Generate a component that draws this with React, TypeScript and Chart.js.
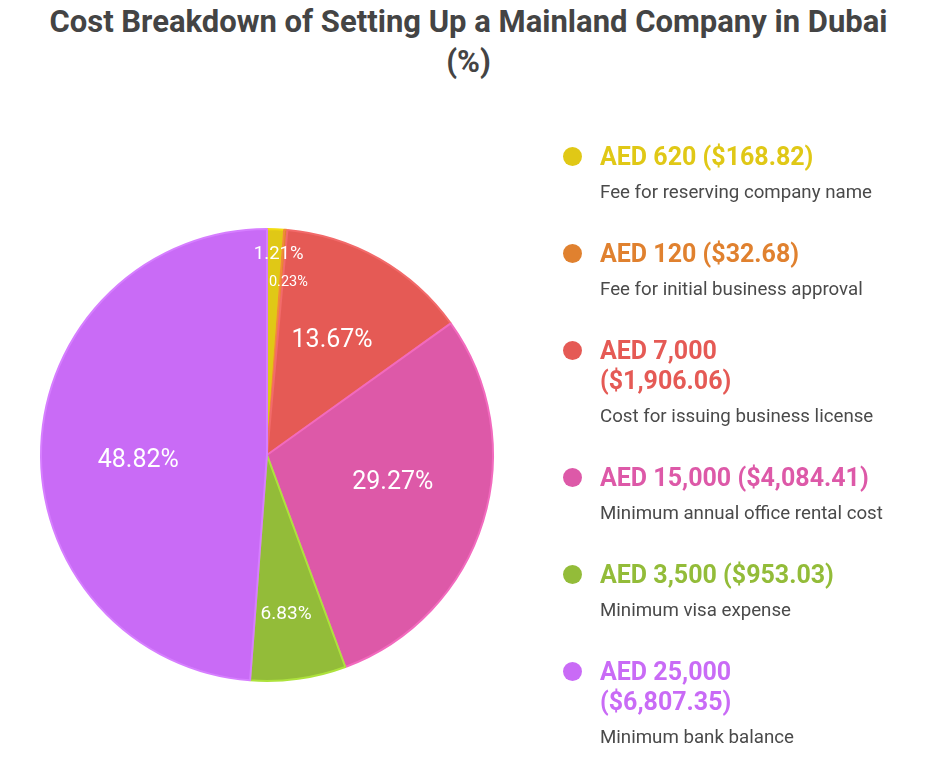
import React, { useEffect, useRef } from "react";
import { Chart, registerables } from "chart.js";

Chart.register(...registerables);

const TITLE_LINE1 = "Cost Breakdown of Setting Up a Mainland Company in Dubai";
const TITLE_LINE2 = "(%)";
const amounts = ["AED 620 ($168.82)", "AED 120 ($32.68)", "AED 7,000\n($1,906.06)", "AED 15,000 ($4,084.41)", "AED 3,500 ($953.03)", "AED 25,000\n($6,807.35)"];
const descriptions = [
  "Fee for reserving company name",
  "Fee for initial business approval",
  "Cost for issuing business license",
  "Minimum annual office rental cost",
  "Minimum visa expense",
  "Minimum bank balance",
];
const percentages = [1.21, 0.23, 13.67, 29.27, 6.83, 48.82];
const colors = ["#E0C816", "#E0812F", "#E55A55", "#DD59A8", "#93BC39", "#C96BF6"];
const borderColors = ["#F2DC10", "#F08A3A", "#F26A6A", "#F26ABE", "#ADE23C", "#D67EFF"];

const labelPlugin = {
  id: "sliceLabels",
  afterDatasetsDraw(chart: any) {
    const ctx = chart.ctx;
    const meta = chart.getDatasetMeta(0);
    meta.data.forEach((arc: any, i: number) => {
      const pct = percentages[i];
      const { x, y, startAngle, endAngle, outerRadius } = arc.getProps(
        ["x", "y", "startAngle", "endAngle", "outerRadius"],
        true
      );
      let mid = (startAngle + endAngle) / 2;
      let f = 0.58;
      let size = 25;
      if (pct < 1) {
        f = 0.77;
        size = 14.5;
        mid += 0.04;
      } else if (pct < 2) {
        f = 0.89;
        size = 18.5;
        mid += 0.02;
      } else if (pct < 10) {
        f = 0.708;
        size = 19;
        mid += 0.02;
      } else if (pct > 20) {
        f = 0.57;
        mid -= 0.08;
      }
      const px = x + Math.cos(mid) * outerRadius * f;
      const py = y + Math.sin(mid) * outerRadius * f;
      ctx.save();
      ctx.fillStyle = "#ffffff";
      ctx.font = `${size}px Roboto`;
      ctx.textAlign = "center";
      ctx.textBaseline = "middle";
      ctx.fillText(pct.toFixed(2) + "%", px, py);
      ctx.restore();
    });
  },
};

export default function App() {
  const ref = useRef<HTMLCanvasElement>(null);
  useEffect(() => {
    if (!ref.current) return;
    const chart = new Chart(ref.current, {
      type: "pie",
      data: {
        labels: descriptions,
        datasets: [
          {
            data: percentages,
            backgroundColor: colors,
            borderColor: borderColors,
            borderWidth: 2,
          },
        ],
      },
      options: {
        responsive: false,
        animation: false,
        devicePixelRatio: 1,
        layout: { padding: { left: 32, right: 435, top: 220, bottom: 83 } },
        plugins: {
          legend: { display: false },
          tooltip: { enabled: false },
          title: { display: false },
        },
      },
      plugins: [labelPlugin],
    });
    return () => chart.destroy();
  }, []);

  return (
    <div style={{ position: "relative", width: 921, height: 757, fontFamily: "Roboto, sans-serif" }}>
      <div
        style={{
          position: "absolute",
          left: 0,
          top: -6,
          width: 921,
          textAlign: "center",
          fontSize: 31,
          fontWeight: 700,
          color: "#444444",
          lineHeight: "40px",
        }}
      >
        <div>{TITLE_LINE1}</div>
        <div>{TITLE_LINE2}</div>
      </div>
      <canvas ref={ref} width={921} height={757} style={{ position: "absolute", left: 0, top: 0 }} />
      <div style={{ position: "absolute", left: 555, top: 134, width: 360 }}>
        {amounts.map((a, i) => (
          <div key={i} style={{ position: "relative", paddingLeft: 37, marginBottom: 34 }}>
            <div
              style={{
                position: "absolute",
                left: 0,
                top: 5,
                width: 19,
                height: 19,
                borderRadius: "50%",
                background: colors[i],
              }}
            />
            <div
              style={{
                color: colors[i],
                fontWeight: 700,
                fontSize: 25,
                lineHeight: "30px",
                whiteSpace: "pre-line",
              }}
            >
              {a}
            </div>
            <div style={{ color: "#4a4a4a", fontSize: 18.7, lineHeight: "26px", marginTop: 7 }}>
              {descriptions[i]}
            </div>
          </div>
        ))}
      </div>
    </div>
  );
}
